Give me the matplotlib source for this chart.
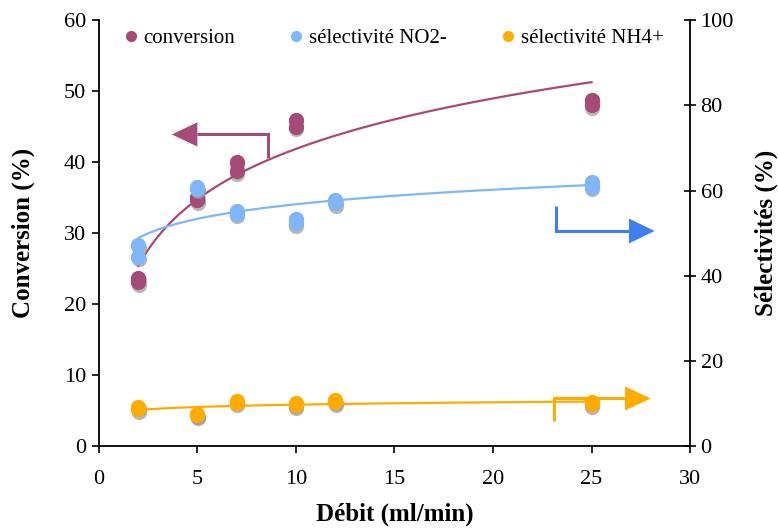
import numpy as np
import matplotlib
matplotlib.use('Agg')
import matplotlib.pyplot as plt
from matplotlib.transforms import offset_copy
from matplotlib.lines import Line2D

plt.rcParams['font.family'] = ['Liberation Serif', 'DejaVu Serif']

# data
x_conv = [2, 2, 5, 5, 7, 7, 10, 10, 25, 25]
conversion = [23.7, 23.1, 35.1, 34.6, 40.0, 38.7, 46.0, 45.0, 48.7, 48.0]

x_sel = [2, 2, 5, 5, 7, 7, 10, 10, 12, 12, 25, 25]
sel_no2 = [47.2, 44.4, 60.8, 60.4, 55.2, 54.6, 53.3, 52.3, 57.8, 57.0, 62.0, 60.9]
sel_nh4 = [9.2, 8.6, 7.5, 7.2, 10.6, 10.2, 10.0, 9.6, 10.8, 10.3, 10.4, 9.8]

c_conv = '#a64a78'
c_no2 = '#7fb6f7'
c_nh4 = '#ffab00'
c_blue_arrow = '#3f7ff2'

fig = plt.figure(figsize=(7.78, 5.31), dpi=100)
ax = fig.add_axes([0.127, 0.160, 0.760, 0.802])
ax2 = ax.twinx()


def log_fit(x, y):
    a, b = np.polyfit(np.log(x), y, 1)
    xs = np.linspace(min(x), max(x), 200)
    return xs, a * np.log(xs) + b


def points(axis, x, y, color):
    shadow = offset_copy(axis.transData, fig=fig, x=0.5, y=-2.5, units='dots')
    axis.plot(x, y, 'o', ms=11, color='#9a9a9a', alpha=0.7, mec='none',
              transform=shadow, zorder=2)
    axis.plot(x, y, 'o', ms=11, color=color, mec='none', zorder=3)
    xs, ys = log_fit(np.array(x, float), np.array(y, float))
    axis.plot(xs, ys, color=color, lw=1.6, zorder=4)


points(ax, x_conv, conversion, c_conv)
points(ax2, x_sel, sel_no2, c_no2)
points(ax2, x_sel, sel_nh4, c_nh4)


def bent_arrow(axis, path_x, path_y, tip_x, head_h, color, lw):
    axis.plot(path_x, path_y, color=color, lw=lw, solid_capstyle='butt',
              solid_joinstyle='miter', zorder=5)
    yc = path_y[-1]
    base = path_x[-1]
    axis.fill([base, base, tip_x], [yc - head_h / 2, yc + head_h / 2, yc],
              color=color, lw=0, zorder=5)


# arrows pointing to the relevant axis (left-axis units)
bent_arrow(ax, [8.6, 8.6, 5.0], [40.6, 43.9, 43.9], 3.7, 3.4, c_conv, 2.2)
bent_arrow(ax, [23.2, 23.2, 26.9], [33.8, 30.3, 30.3], 28.2, 3.5, c_blue_arrow, 2.2)
bent_arrow(ax, [23.1, 23.1, 26.7], [3.5, 6.7, 6.7], 28.0, 3.4, c_nh4, 2.2)

ax.set_xlim(0, 30)
ax.set_ylim(0, 60)
ax2.set_ylim(0, 100)
ax.set_xticks(range(0, 31, 5))
ax.set_yticks(range(0, 61, 10))
ax2.set_yticks(range(0, 101, 20))

for a in (ax, ax2):
    a.spines['top'].set_visible(False)
    for s in a.spines.values():
        s.set_linewidth(1.3)
ax.spines['right'].set_visible(False)
ax2.spines['left'].set_visible(False)
ax2.spines['bottom'].set_visible(False)

ax.tick_params(axis='both', direction='out', length=5, width=1.2, labelsize=16)
ax.tick_params(axis='x', pad=12)
ax.tick_params(axis='y', pad=4)
ax2.tick_params(axis='y', direction='inout', length=9, width=1.2, labelsize=16, pad=3)

ax.set_xlabel('Débit (ml/min)', fontsize=18, fontweight='bold', labelpad=10)
ax.set_ylabel('Conversion (%)', fontsize=18, fontweight='bold', labelpad=21)
ax2.set_ylabel('Sélectivités (%)', fontsize=18, fontweight='bold', labelpad=15)

handles = [Line2D([], [], ls='none', marker='o', ms=8, color=c, mec='none')
           for c in (c_conv, c_no2, c_nh4)]
labels = ['conversion', 'sélectivité NO2-', 'sélectivité NH4+']
ax2.legend(handles, labels, ncol=3, loc='upper center', bbox_to_anchor=(0.50, 1.025),
           frameon=False, fontsize=15, handlelength=0.5, handletextpad=0.35,
           columnspacing=2.7)

fig.savefig('out.png', dpi=100)
